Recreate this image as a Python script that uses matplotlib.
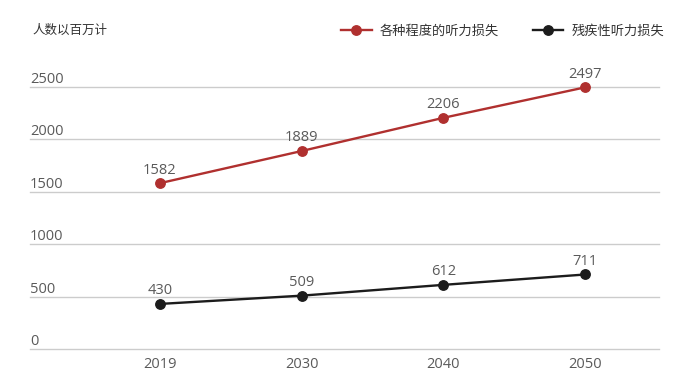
import matplotlib
matplotlib.use("Agg")
import matplotlib.pyplot as plt

plt.rcParams['font.family'] = ['Noto Sans CJK SC', 'DejaVu Sans']

years = ["2019", "2030", "2040", "2050"]
all_loss = [1582, 1889, 2206, 2497]
disabling_loss = [430, 509, 612, 711]
series_names = ["各种程度的听力损失", "残疾性听力损失"]
y_ticks = [0, 500, 1000, 1500, 2000, 2500]
unit_label = "人数以百万计"

red = "#b0302f"
black = "#1c1c1c"
grey_text = "#5a5a5a"
num_font = ['Open Sans', 'DejaVu Sans']

W, H = 687, 381
fig = plt.figure(figsize=(W / 100, H / 100), dpi=100)
ax = fig.add_axes([30 / W, 1 - 349 / H, (659 - 30) / W, (349 - 87) / H])

x = list(range(len(years)))
for vals, col, name in [(all_loss, red, series_names[0]), (disabling_loss, black, series_names[1])]:
    ax.plot(x, vals, color=col, lw=1.7, marker='o', markersize=6.8, clip_on=False, label=name, zorder=3)
    for xi, v in zip(x, vals):
        ax.annotate(str(v), (xi, v), xytext=(0, 4), textcoords='offset points',
                    ha='center', va='bottom', fontsize=10.5, color=grey_text, family=num_font)

ax.set_xlim(-0.915, 3.52)
ax.set_ylim(0, 2500)
for t in y_ticks:
    ax.axhline(t, color="#cccccc", lw=1, zorder=1, clip_on=False)
    ax.text(0, t, str(t), transform=ax.get_yaxis_transform(), ha='left', va='bottom',
            fontsize=10.5, color=grey_text, family=num_font)

ax.set_yticks([])
ax.set_xticks(x)
ax.set_xticklabels(years, fontsize=10.5, color=grey_text, family=num_font)
ax.tick_params(axis='x', length=0, pad=6)
for s in ax.spines.values():
    s.set_visible(False)
ax.patch.set_alpha(0)

fig.text(32 / W, 1 - 30 / H, unit_label, ha='left', va='center', fontsize=9, color="#333333")

leg = fig.legend(loc='center right', bbox_to_anchor=(664 / W, 1 - 31 / H), ncol=2, frameon=False,
                 fontsize=9.5, handlelength=2.3, handletextpad=0.6, columnspacing=2.6,
                 labelcolor="#333333", borderaxespad=0, borderpad=0)
for h in leg.legend_handles:
    h.set_markersize(6.8)

fig.savefig("out.png", dpi=100)
